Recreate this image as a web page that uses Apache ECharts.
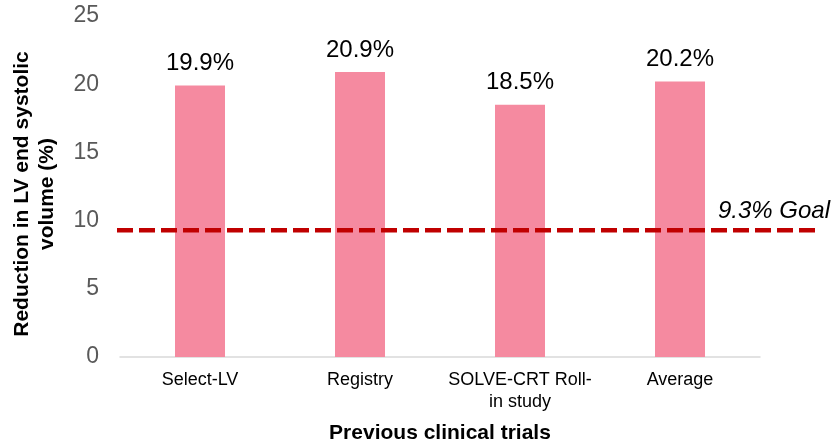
<!DOCTYPE html>
<html>
<head>
<meta charset="utf-8">
<script src="https://cdn.jsdelivr.net/npm/echarts@6/dist/echarts.min.js"></script>
<style>
  html, body { margin: 0; padding: 0; background: #fff; }
  #chart { width: 832px; height: 444px; }
</style>
</head>
<body>
<div id="chart"></div>
<script>
// Trials and their mean LVESV reduction (%)
const trials = ['Select-LV', 'Registry', 'SOLVE-CRT Roll-\nin study', 'Average'];
const reduction = [19.9, 20.9, 18.5, 20.2];
const goalValue = 9.3;
const goalLabel = '9.3% Goal';
const yTicks = { min: 0, max: 25, interval: 5 };

const FONT = '"Liberation Sans", Arial, sans-serif';

const chart = echarts.init(document.getElementById('chart'), null, { renderer: 'canvas' });

chart.setOption({
  animation: false,
  textStyle: { fontFamily: FONT },
  grid: [
    { left: 120, right: 72, top: 16, bottom: 87, containLabel: false, outerBoundsMode: 'none' },
    // overlay used for the goal line, which runs past the last category
    { left: 117, right: 12, top: 16, bottom: 87, containLabel: false, outerBoundsMode: 'none' }
  ],
  xAxis: [
    {
      type: 'category',
      gridIndex: 0,
      data: trials,
      axisLine: { lineStyle: { color: '#D9D9D9', width: 1.5 } },
      axisTick: { show: false },
      axisLabel: {
        interval: 0, hideOverlap: false,
        color: '#000', fontSize: 18, margin: 12, lineHeight: 22, fontFamily: FONT
      },
      name: 'Previous clinical trials',
      nameLocation: 'middle',
      nameGap: 66,
      nameTextStyle: { color: '#000', fontSize: 21, fontWeight: 'bold', fontFamily: FONT }
    },
    {
      type: 'value',
      gridIndex: 1,
      min: 0,
      max: 1,
      show: false
    }
  ],
  yAxis: [
    {
      type: 'value',
      gridIndex: 0,
      min: yTicks.min,
      max: yTicks.max,
      interval: yTicks.interval,
      axisLine: { show: false },
      axisTick: { show: false },
      splitLine: { show: false },
      axisLabel: { color: '#595959', fontSize: 23, margin: 21, fontFamily: FONT },
      name: 'Reduction in LV end systolic\nvolume (%)',
      nameLocation: 'middle',
      nameGap: 60,
      nameTextStyle: {
        color: '#000', fontSize: 21, fontWeight: 'bold', lineHeight: 25,
        fontFamily: FONT, padding: [0, 15, 0, 0]
      }
    },
    {
      type: 'value',
      gridIndex: 1,
      min: yTicks.min,
      max: yTicks.max,
      show: false
    }
  ],
  series: [
    {
      type: 'bar',
      xAxisIndex: 0,
      yAxisIndex: 0,
      data: reduction,
      barWidth: '31.25%',
      itemStyle: { color: '#F58AA0' },
      label: {
        show: true,
        position: 'top',
        distance: 10,
        color: '#000',
        fontSize: 24,
        fontFamily: FONT,
        formatter: p => p.value.toFixed(1) + '%'
      }
    },
    {
      type: 'line',
      xAxisIndex: 1,
      yAxisIndex: 1,
      data: [[0, goalValue], [1, goalValue]],
      symbol: 'none',
      lineStyle: { color: '#C00000', width: 4.5, type: [16, 6] },
      z: 5,
      endLabel: {
        show: true,
        formatter: goalLabel,
        color: '#000',
        fontSize: 24,
        fontStyle: 'italic',
        fontFamily: FONT,
        align: 'right',
        verticalAlign: 'bottom',
        offset: [2, -7]
      }
    }
  ]
});
</script>
</body>
</html>
